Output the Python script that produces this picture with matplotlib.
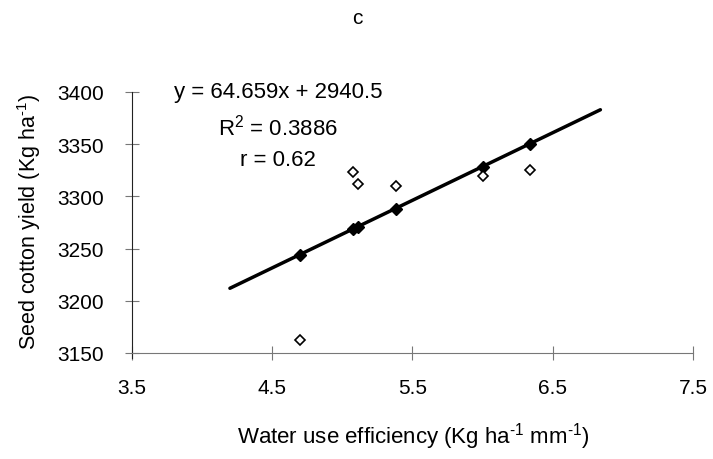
"""
WUE vs seed cotton yield scatter with linear trend (panel c)
"""
import matplotlib
matplotlib.use("Agg")
import matplotlib.pyplot as plt
from matplotlib import rcParams

rcParams["font.family"] = ["Liberation Sans", "DejaVu Sans"]
rcParams["mathtext.fontset"] = "custom"
rcParams["mathtext.rm"] = "Liberation Sans"
rcParams["mathtext.it"] = "Liberation Sans"

# 数据
wue = [4.70, 5.08, 5.11, 5.38, 6.00, 6.34]
yield_obs = [3162, 3323, 3312, 3310, 3320, 3325]
yield_fit = [3244, 3269, 3271, 3288, 3328, 3350]
trend_x = [4.20, 6.84]
trend_y = [3212, 3383]

x_ticks = [3.5, 4.5, 5.5, 6.5, 7.5]
y_ticks = [3150, 3200, 3250, 3300, 3350, 3400]

eq_lines = ["y = 64.659x + 2940.5", r"R$^{2}$ = 0.3886", "r = 0.62"]

W, H = 713, 460
fig = plt.figure(figsize=(W / 100, H / 100), dpi=100)
ax = fig.add_axes([131.7 / W, 1 - 354 / H, (693 - 131.7) / W, (354 - 93) / H])

# 趋势线
ax.plot(trend_x, trend_y, color="black", lw=2.5, solid_capstyle="round", zorder=2)
# 拟合值
ax.plot(wue, yield_fit, linestyle="none", marker="D", ms=6, color="black", zorder=3)
# 观测值
ax.plot(wue, yield_obs, linestyle="none", marker="D", ms=5.5, mfc="white",
        mec="black", mew=1.2, zorder=3)

ax.set_xlim(3.5, 7.5)
ax.set_ylim(3150, 3400)
ax.set_xticks(x_ticks)
ax.set_xticklabels([f"{v:.1f}" for v in x_ticks])
ax.set_yticks(y_ticks)
ax.set_yticklabels([str(v) for v in y_ticks])

for s in ["top", "right"]:
    ax.spines[s].set_visible(False)
ax.spines["left"].set_color("#222222")
ax.spines["bottom"].set_color("#777777")
ax.spines["left"].set_linewidth(0.8)
ax.spines["bottom"].set_linewidth(0.8)
ax.spines["left"].set_bounds(3145, 3400)

ax.tick_params(axis="both", direction="inout", length=10, width=0.8,
               color="#777777", labelsize=15, labelcolor="black")
ax.tick_params(axis="y", pad=15)
ax.tick_params(axis="x", pad=13)

# 方程文字
eq_y = [3400, 3366.5, 3335]
for txt, yy in zip(eq_lines, eq_y):
    ax.text(4.545, yy, txt, fontsize=16, ha="center", va="center")

hy = "\u2010"
fig.text(357 / W, 1 - 19 / H, "c", fontsize=15, ha="center", va="center")
fig.text(413 / W, 1 - 437 / H,
         f"Water use efficiency (Kg ha$^{{{hy}1}}$ mm$^{{{hy}1}}$)",
         fontsize=16, ha="center", va="center")
fig.text(29 / W, 1 - 222 / H, f"Seed cotton yield (Kg ha$^{{{hy}1}}$)",
         fontsize=15.5, ha="center", va="center", rotation=90)

fig.savefig("out.png", dpi=100)
plt.close(fig)
